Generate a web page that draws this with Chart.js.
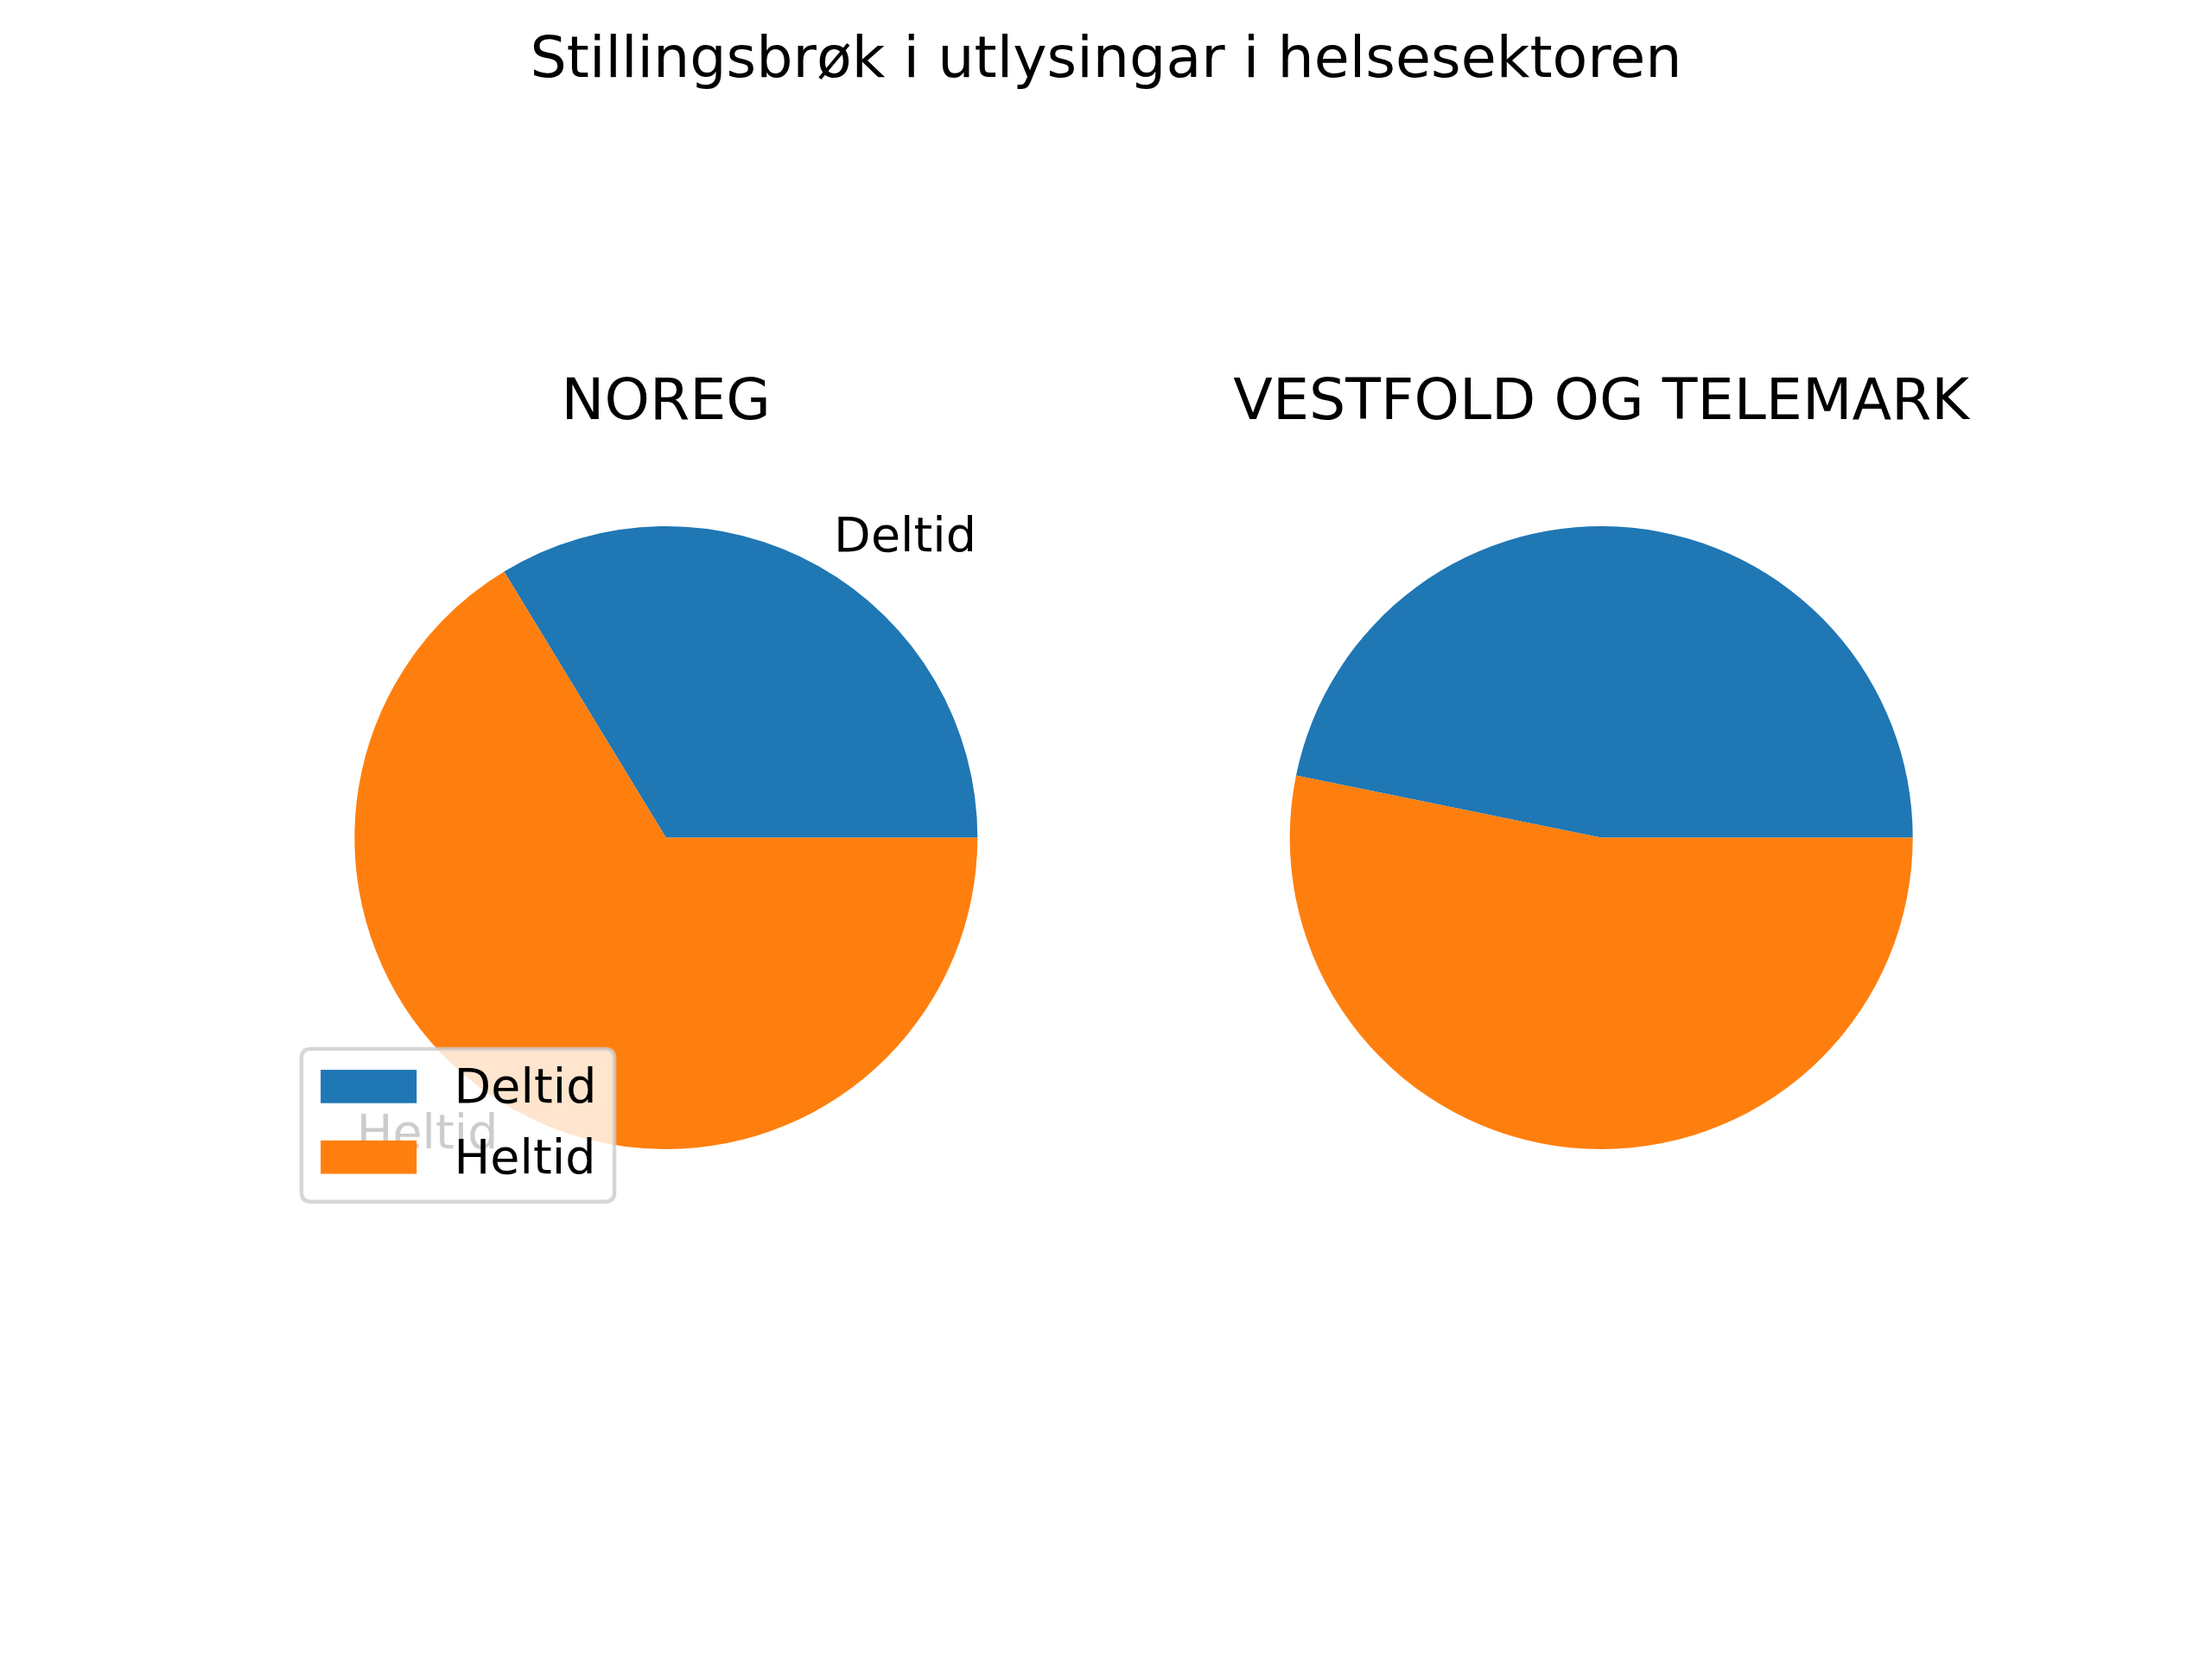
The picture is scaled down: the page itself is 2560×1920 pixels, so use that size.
<!DOCTYPE html>
<html>
<head>
<meta charset="utf-8">
<script src="https://cdn.jsdelivr.net/npm/chart.js@4.4.1/dist/chart.umd.min.js"></script>
<style>
  html, body { margin: 0; padding: 0; background: #fff; }
  #wrap { position: relative; width: 2560px; height: 1920px; }
  #wrap canvas { position: absolute; left: 0; top: 0; }
</style>
</head>
<body>
<div id="wrap">
  <canvas id="noreg" width="2560" height="1920"></canvas>
  <canvas id="vt" width="2560" height="1920"></canvas>
</div>
<script>
const suptitle = 'Stillingsbrøk i utlysingar i helsesektoren';
const categories = ['Deltid', 'Heltid'];
const regions = ['NOREG', 'VESTFOLD OG TELEMARK'];
const noregShares = [33.7, 66.3];
const vtShares = [46.8, 53.2];
const colours = ['#1f77b4', '#ff7f0e'];

const FONT = '"DejaVu Sans", "Liberation Sans", sans-serif';
const TITLE_PX = 66.67;
const LABEL_PX = 55.56;

// draws titles, slice labels and the legend on top of the pie
const pieText = {
  id: 'pieText',
  afterDatasetsDraw(chart, args, opts) {
    const ctx = chart.ctx;
    const area = chart.chartArea;
    const cx = (area.left + area.right) / 2;
    ctx.save();
    ctx.fillStyle = '#000';
    ctx.textBaseline = 'alphabetic';
    ctx.font = `${TITLE_PX}px ${FONT}`;
    ctx.textAlign = 'center';
    ctx.fillText(opts.title, cx, area.top - 124);
    if (opts.suptitle) ctx.fillText(opts.suptitle, 1280, 89);

    if (opts.labels) {
      ctx.font = `${LABEL_PX}px ${FONT}`;
      chart.getDatasetMeta(0).data.forEach((arc, i) => {
        const p = arc.getProps(['x', 'y', 'startAngle', 'endAngle', 'outerRadius'], true);
        const mid = (p.startAngle + p.endAngle) / 2;
        const r = 1.1 * p.outerRadius;
        ctx.textAlign = Math.cos(mid) >= 0 ? 'left' : 'right';
        ctx.fillText(chart.data.labels[i], p.x + r * Math.cos(mid), p.y + r * Math.sin(mid) + 0.257 * LABEL_PX);
      });
    }
    ctx.restore();
  },
  afterDraw(chart, args, opts) {
    if (!opts.legend) return;
    const ctx = chart.ctx;
    const x = 348.9, y = 1213.9, w = 362.2, h = 176.9, rad = 11;
    ctx.save();
    ctx.beginPath();
    ctx.moveTo(x + rad, y);
    ctx.lineTo(x + w - rad, y);
    ctx.quadraticCurveTo(x + w, y, x + w, y + rad);
    ctx.lineTo(x + w, y + h - rad);
    ctx.quadraticCurveTo(x + w, y + h, x + w - rad, y + h);
    ctx.lineTo(x + rad, y + h);
    ctx.quadraticCurveTo(x, y + h, x, y + h - rad);
    ctx.lineTo(x, y + rad);
    ctx.quadraticCurveTo(x, y, x + rad, y);
    ctx.closePath();
    ctx.fillStyle = 'rgba(255,255,255,0.8)';
    ctx.fill();
    ctx.lineWidth = 4.4;
    ctx.strokeStyle = 'rgba(204,204,204,0.8)';
    ctx.stroke();

    ctx.font = `${LABEL_PX}px ${FONT}`;
    ctx.textAlign = 'left';
    ctx.textBaseline = 'alphabetic';
    const ds = chart.data.datasets[0];
    chart.data.labels.forEach((label, i) => {
      const base = 1276 + i * 81.8;
      ctx.fillStyle = ds.backgroundColor[i];
      ctx.fillRect(371.1, base - 37.9, 111.1, 38.6);
      ctx.fillStyle = '#000';
      ctx.fillText(label, 525.6, base);
    });
    ctx.restore();
  }
};

function makePie(id, shares, title, padding, extra) {
  const total = shares.reduce((a, b) => a + b, 0);
  return new Chart(document.getElementById(id), {
    type: 'pie',
    data: {
      labels: categories,
      datasets: [{
        data: shares,
        backgroundColor: colours,
        borderWidth: 0,
        hoverOffset: 0
      }]
    },
    options: {
      responsive: false,
      animation: false,
      events: [],
      devicePixelRatio: 1,
      // matplotlib starts at 3 o'clock and runs counter-clockwise
      rotation: 90 - shares[0] / total * 360,
      layout: { padding: padding },
      plugins: {
        legend: { display: false },
        tooltip: { enabled: false },
        title: { display: false },
        pieText: Object.assign({ title: title }, extra)
      }
    },
    plugins: [pieText]
  });
}

makePie('noreg', noregShares, regions[0],
  { left: 410.3, right: 1428.7, top: 609, bottom: 590 },
  { labels: true, legend: true, suptitle: suptitle });
makePie('vt', vtShares, regions[1],
  { left: 1492.7, right: 346.3, top: 609, bottom: 590 },
  { labels: false, legend: false });
</script>
</body>
</html>
